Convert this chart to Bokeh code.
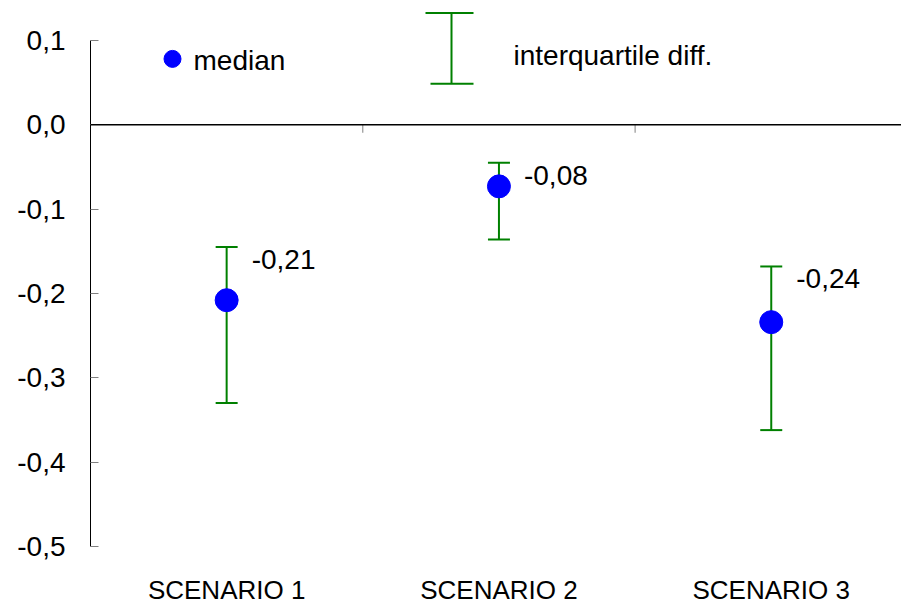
from bokeh.plotting import figure
from bokeh.models import Range1d, FixedTicker, Span, ColumnDataSource, Label
from bokeh.core.properties import value
from bokeh.embed import file_html
from bokeh.resources import INLINE

# ---- data ----
scenarios = ["SCENARIO 1", "SCENARIO 2", "SCENARIO 3"]
medians = [-0.208, -0.073, -0.234]
q_upper = [-0.145, -0.045, -0.168]
q_lower = [-0.330, -0.136, -0.362]
median_labels = ["-0,21", "-0,08", "-0,24"]
y_ticks = [-0.5, -0.4, -0.3, -0.2, -0.1, 0.0, 0.1]
y_tick_labels = ["-0,5", "-0,4", "-0,3", "-0,2", "-0,1", "0,0", "0,1"]

FONT = "Liberation Sans"
GREEN = "#008000"
BLUE = "#0000ff"

# frame geometry (page px): left 90, right 901, top 0, bottom 547
W, H = 901, 607
LEFT, TOP, BOTTOM = 90, 0, 547
px_per_cat = 272.3
px_per_unit = 845.0
frame_w = W - LEFT
frame_h = BOTTOM - TOP
y_top = 0.1 + (40 - TOP) / px_per_unit

x_pos = [i + 0.5 for i in range(len(scenarios))]

p = figure(width=W, height=H, output_backend="svg", toolbar_location=None,
           x_range=Range1d(0, frame_w / px_per_cat), y_range=Range1d(-0.5, y_top),
           min_border_left=LEFT, min_border_right=0, min_border_top=TOP,
           min_border_bottom=H - BOTTOM)
p.outline_line_color = None
p.grid.visible = False
p.background_fill_color = "white"

# y axis
yax = p.yaxis[0]
yax.ticker = FixedTicker(ticks=y_ticks)
yax.major_label_overrides = {t: l for t, l in zip(y_ticks, y_tick_labels)}
yax.bounds = (-0.5, 0.1)
yax.major_tick_in = 8
yax.major_tick_out = 0
yax.major_tick_line_color = "#808080"
yax.minor_tick_line_color = None
yax.axis_line_color = "black"
yax.major_label_text_font = FONT
yax.major_label_text_font_size = "28px"
yax.major_label_text_color = "black"
yax.major_label_standoff = 25

# x axis (labels only at bottom)
xax = p.xaxis[0]
xax.ticker = FixedTicker(ticks=x_pos)
xax.major_label_overrides = {x: s for x, s in zip(x_pos, scenarios)}
xax.axis_line_color = None
xax.major_tick_line_color = None
xax.minor_tick_line_color = None
xax.major_tick_in = 0
xax.major_tick_out = 0
xax.major_label_text_font = FONT
xax.major_label_text_font_size = "26px"
xax.major_label_text_color = "black"
xax.major_label_standoff = 28

# zero line acting as category axis
p.add_layout(Span(location=0, dimension="width", line_color="black", line_width=1.4))
boundaries = [i for i in range(1, len(scenarios))]
tick_len = 8 / px_per_unit
p.segment(x0=boundaries, x1=boundaries, y0=[0] * len(boundaries),
          y1=[-tick_len] * len(boundaries), line_color="#808080", line_width=1)

# error bars
src = ColumnDataSource(dict(x=x_pos, med=medians, up=q_upper, lo=q_lower, lab=median_labels))
cap = 11 / px_per_cat
p.segment(x0="x", x1="x", y0="lo", y1="up", source=src, line_color=GREEN, line_width=2)
xs = [x - cap for x in x_pos]
xe = [x + cap for x in x_pos]
p.segment(x0=xs, x1=xe, y0=q_upper, y1=q_upper, line_color=GREEN, line_width=2)
p.segment(x0=xs, x1=xe, y0=q_lower, y1=q_lower, line_color=GREEN, line_width=2)

# medians
p.scatter(x="x", y="med", source=src, size=23, marker="circle",
          fill_color=BLUE, line_color=BLUE)

# labels near medians
p.text(x="x", y="up", text="lab", source=src, x_offset=25, y_offset=3,
       text_font=value(FONT), text_font_size="28px", text_baseline="top",
       text_align="left", text_color="black")

# ---- manual legend (positions in page px converted to data) ----
def dx(px):
    return (px - LEFT) / px_per_cat

def dy(py):
    return (124 - py) / px_per_unit

p.scatter(x=[dx(172)], y=[dy(58)], size=17, marker="circle",
          fill_color=BLUE, line_color=BLUE)
p.add_layout(Label(x=dx(193), y=dy(60), text="median", text_font=FONT,
                   text_font_size="28px", text_baseline="middle", text_color="black"))
lx = dx(451)
p.segment(x0=[lx], x1=[lx], y0=[dy(83)], y1=[dy(12)], line_color=GREEN, line_width=2)
p.segment(x0=[dx(425), dx(430)], x1=[dx(473), dx(473)], y0=[dy(12), dy(83)],
          y1=[dy(12), dy(83)], line_color=GREEN, line_width=2)
p.add_layout(Label(x=dx(513), y=dy(55), text="interquartile diff.", text_font=FONT,
                   text_font_size="28px", text_baseline="middle", text_color="black"))

open("out.html", "w").write(file_html(p, INLINE))
